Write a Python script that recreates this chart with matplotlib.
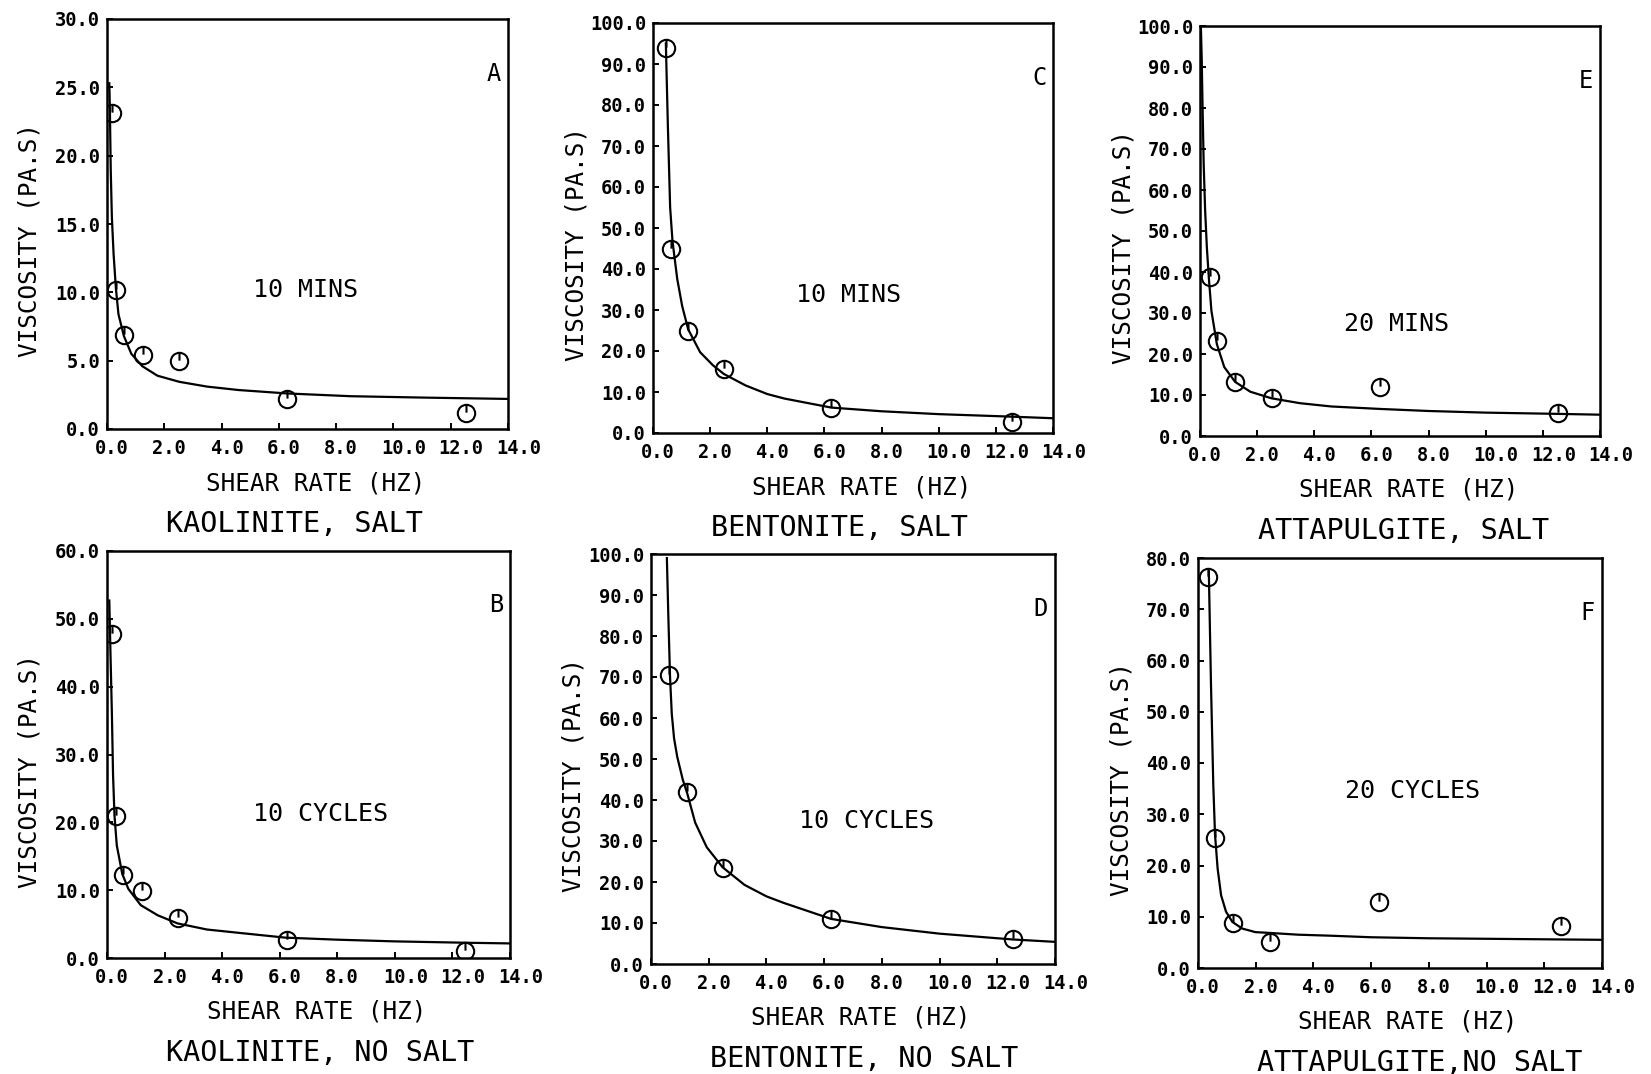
import numpy as np
import matplotlib
matplotlib.use("Agg")
import matplotlib.pyplot as plt
from matplotlib.path import Path
from matplotlib.transforms import ScaledTranslation

plt.rcParams["font.family"] = "DejaVu Sans Mono"

# A: kaolinite, salt (10 mins)
kao_salt_rate = [0.19, 0.31, 0.60, 1.24, 2.52, 6.30, 12.55]
kao_salt_visc = [23.1, 10.2, 6.9, 5.4, 4.95, 2.2, 1.15]
kao_salt_fit_rate = [0.08, 0.10, 0.13, 0.17, 0.23, 0.31, 0.40, 0.59, 0.85, 1.23,
                     1.76, 2.53, 3.5, 4.6, 6.3, 8.5, 11.0, 14.0]
kao_salt_fit_visc = [25.3, 23.5, 19.0, 15.5, 12.8, 10.3, 8.4, 6.8, 5.5, 4.6,
                     3.9, 3.45, 3.1, 2.85, 2.6, 2.4, 2.3, 2.2]

# B: kaolinite, no salt (10 cycles)
kao_nosalt_rate = [0.17, 0.30, 0.57, 1.22, 2.47, 6.25, 12.45]
kao_nosalt_visc = [47.8, 21.0, 12.3, 9.9, 5.9, 2.6, 1.1]
kao_nosalt_fit_rate = [0.08, 0.12, 0.17, 0.21, 0.26, 0.34, 0.53, 0.74, 1.17, 1.76,
                       2.45, 3.47, 4.6, 6.2, 8.0, 10.0, 12.45, 14.0]
kao_nosalt_fit_visc = [52.7, 45.0, 36.0, 27.0, 21.0, 16.6, 12.4, 10.2, 7.8, 6.3,
                       5.1, 4.2, 3.7, 3.0, 2.7, 2.45, 2.25, 2.15]

# C: bentonite, salt (10 mins)
ben_salt_rate = [0.47, 0.62, 1.22, 2.47, 6.24, 12.57]
ben_salt_visc = [94.0, 45.0, 24.9, 15.6, 6.0, 2.6]
ben_salt_fit_rate = [0.45, 0.52, 0.60, 0.68, 0.75, 0.85, 1.02, 1.23, 1.65, 2.1,
                     2.48, 3.24, 4.0, 4.6, 6.24, 8.0, 10.0, 12.5, 14.0]
ben_salt_fit_visc = [95.0, 75.0, 55.0, 47.0, 43.0, 37.5, 31.0, 25.3, 19.7, 16.5,
                     14.4, 11.6, 9.5, 8.4, 6.2, 5.3, 4.6, 4.0, 3.6]

# D: bentonite, no salt (10 cycles)
ben_nosalt_rate = [0.62, 1.25, 2.49, 6.24, 12.55]
ben_nosalt_visc = [70.4, 41.9, 23.4, 10.9, 6.2]
ben_nosalt_fit_rate = [0.55, 0.60, 0.66, 0.72, 0.80, 0.91, 1.10, 1.26, 1.53, 1.93,
                       2.48, 3.24, 4.0, 4.6, 6.24, 8.0, 10.0, 12.5, 14.0]
ben_nosalt_fit_visc = [99.0, 85.0, 70.0, 61.0, 55.0, 50.5, 45.0, 41.5, 34.5, 28.5,
                       23.6, 19.3, 16.5, 14.9, 11.0, 9.0, 7.4, 6.0, 5.4]

# E: attapulgite, salt (20 mins)
att_salt_rate = [0.35, 0.60, 1.24, 2.52, 6.30, 12.53]
att_salt_visc = [38.8, 23.2, 13.2, 9.2, 12.0, 5.5]
att_salt_fit_rate = [0.03, 0.06, 0.09, 0.13, 0.18, 0.24, 0.31, 0.40, 0.59, 0.85,
                     1.23, 1.76, 2.5, 3.5, 4.6, 6.3, 8.0, 10.0, 12.5, 14.0]
att_salt_fit_visc = [100.0, 92.0, 80.0, 66.0, 55.0, 46.0, 38.5, 30.5, 22.4, 16.8,
                     13.2, 10.8, 9.2, 8.0, 7.2, 6.6, 6.1, 5.7, 5.4, 5.2]

# F: attapulgite, no salt (20 cycles)
att_nosalt_rate = [0.36, 0.60, 1.20, 2.48, 6.27, 12.58]
att_nosalt_visc = [76.3, 25.3, 8.8, 5.1, 12.8, 8.2]
att_nosalt_fit_rate = [0.375, 0.45, 0.53, 0.59, 0.68, 0.80, 0.97, 1.19, 1.53, 1.99,
                       2.47, 3.47, 4.6, 6.0, 8.0, 10.0, 12.0, 14.0]
att_nosalt_fit_visc = [77.4, 55.3, 35.7, 26.0, 19.4, 14.2, 11.0, 9.0, 7.7, 7.0,
                       6.85, 6.5, 6.3, 6.0, 5.8, 5.7, 5.6, 5.5]

titles = ["KAOLINITE, SALT", "KAOLINITE, NO SALT", "BENTONITE, SALT",
          "BENTONITE, NO SALT", "ATTAPULGITE, SALT", "ATTAPULGITE,NO SALT"]
letters = ["A", "B", "C", "D", "E", "F"]
notes = ["10 MINS", "10 CYCLES", "10 MINS", "10 CYCLES", "20 MINS", "20 CYCLES"]
y_max = [30, 60, 100, 100, 100, 80]
y_step = [5, 10, 10, 10, 10, 10]

panels = [
    (kao_salt_rate, kao_salt_visc, kao_salt_fit_rate, kao_salt_fit_visc),
    (kao_nosalt_rate, kao_nosalt_visc, kao_nosalt_fit_rate, kao_nosalt_fit_visc),
    (ben_salt_rate, ben_salt_visc, ben_salt_fit_rate, ben_salt_fit_visc),
    (ben_nosalt_rate, ben_nosalt_visc, ben_nosalt_fit_rate, ben_nosalt_fit_visc),
    (att_salt_rate, att_salt_visc, att_salt_fit_rate, att_salt_fit_visc),
    (att_nosalt_rate, att_nosalt_visc, att_nosalt_fit_rate, att_nosalt_fit_visc),
]

# axes boxes in pixels: left, right, top, bottom
boxes = [(107, 508, 19, 429), (107, 510, 551, 958),
         (653, 1053, 23, 433), (651, 1055, 554, 964),
         (1200, 1600, 26, 436), (1198, 1602, 558, 968)]
note_pos = [(0.495, 0.34), (0.53, 0.353), (0.49, 0.336),
            (0.534, 0.349), (0.49, 0.274), (0.532, 0.432)]

W, H = 1651, 1074
fig = plt.figure(figsize=(W / 100, H / 100), dpi=100)

# open circle with a short stroke from centre to top, like the plotter symbol
circ = Path.unit_circle()
stroke = Path([(0, 0.1), (0, 1.0)], [Path.MOVETO, Path.LINETO])
marker = Path.make_compound_path(circ, stroke)

for i, (rate, visc, frate, fvisc) in enumerate(panels):
    l, r, t, b = boxes[i]
    ax = fig.add_axes([l / W, 1 - b / H, (r - l) / W, (b - t) / H])
    ax.plot(frate, fvisc, color="black", lw=1.6)
    ax.plot(rate, visc, linestyle="none", marker=marker, markersize=12.5,
            markerfacecolor="none", markeredgecolor="black", markeredgewidth=1.5)
    ax.set_xlim(0, 14)
    ax.set_ylim(0, y_max[i])
    ax.set_xticks(np.arange(0, 15, 2))
    ax.set_yticks(np.arange(0, y_max[i] + 1, y_step[i]))
    ax.set_xticklabels([f"{v:.1f}" for v in np.arange(0, 15, 2)])
    ax.set_yticklabels([f"{v:.1f}" for v in np.arange(0, y_max[i] + 1, y_step[i])])
    ax.tick_params(direction="in", length=4, width=1.4, labelsize=13.5,
                   top=False, right=False)
    ax.tick_params(axis="x", pad=7)
    ax.tick_params(axis="y", pad=5)
    for lab in ax.get_xticklabels() + ax.get_yticklabels():
        lab.set_fontweight("bold")
    for lab in ax.get_xticklabels():
        lab.set_horizontalalignment("left")
        lab.set_transform(lab.get_transform() +
                          ScaledTranslation(-0.12, 0, fig.dpi_scale_trans))
    for s in ax.spines.values():
        s.set_linewidth(1.8)

    ax.text(-77 / (r - l), 0.46, "VISCOSITY (PA.S)", rotation=90, fontsize=17.5,
            ha="center", va="center", transform=ax.transAxes)
    ax.text(0.248, -54 / (b - t), "SHEAR RATE (HZ)", fontsize=17.5,
            ha="left", va="center", transform=ax.transAxes)
    ax.text(0.146, -95 / (b - t), titles[i], fontsize=20.5,
            ha="left", va="center", transform=ax.transAxes)
    ax.text(note_pos[i][0], note_pos[i][1], notes[i], fontsize=18,
            ha="center", va="center", transform=ax.transAxes)
    ax.text(0.965, 0.867, letters[i], fontsize=17,
            ha="center", va="center", transform=ax.transAxes)

fig.savefig("out.png", dpi=100, facecolor="white")
